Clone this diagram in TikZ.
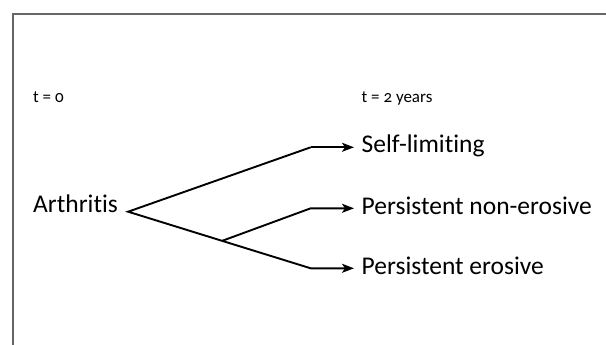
\documentclass[tikz,border=0pt]{standalone}
\usepackage{fontspec}
\setmainfont[Numbers=OldStyle, Ligatures=NoCommon]{Carlito}
\usetikzlibrary{calc,arrows.meta}

\begin{document}
\begin{tikzpicture}[
            x=1pt, y=-1pt,
            every node/.style={
                inner sep=0pt
            },
            time label/.style = {
                anchor=base west,
                font=\fontsize{17}{20}\selectfont
            },
            state/.style = {
                anchor=base west,
                font=\fontsize{25.5}{30}\selectfont
            },
            outcome/.style = {
                state,
                inner xsep=7.5pt
            },
            branch/.style = {
                draw, line width=1.9pt, line join=miter
            },
            outcome arrow/.style = {
                branch, -{Stealth[length=12pt, width=9pt, inset=3pt]}
            }
            ]

            \useasboundingbox (0, 0) rectangle (606, 345);

            % frame
            \draw[line width=2pt, color=black!60] (13, 346) -- (13, 14) -- (607, 14);

            \node[time label] (t0) at (33, 102.7) {t = 0};
            \node[time label] (t2) at (361.5, 102.7) {t = 2 years};

            \node[state] (arthritis) at (33, 212.7) {Arthritis};

            \node[outcome] (selflim) at (354, 153) {Self-limiting};
            \node[outcome] (nonero) at (354, 214) {Persistent non-erosive};
            \node[outcome] (ero) at (354, 274) {Persistent erosive};

            \coordinate (fork) at ($(arthritis.base east) + (10, -1)$);
            \coordinate (k1) at (310.7, 147.3);
            \coordinate (k2) at (310.7, 208.3);
            \coordinate (k3) at (310.7, 268.3);
            \coordinate (split) at ($(fork)!0.515!(k3)$);

            \draw[outcome arrow] (k1) -- (fork) -- (k3) -- (k3 -| ero.west);
            \draw[outcome arrow] (split) -- (k2) -- (k2 -| nonero.west);
            \draw[outcome arrow] (k1) -- (k1 -| selflim.west);

        \end{tikzpicture}
\end{document}
